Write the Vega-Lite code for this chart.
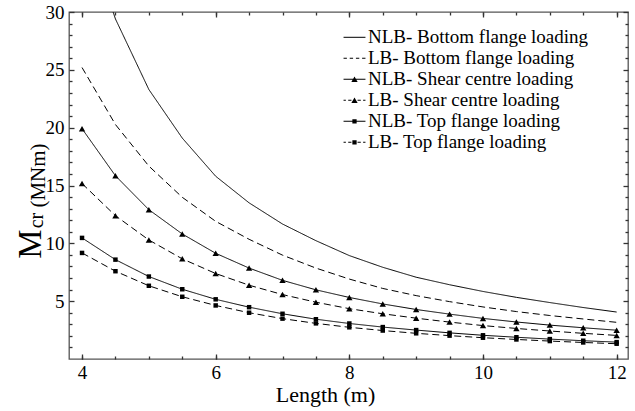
{
  "$schema": "https://vega.github.io/schema/vega-lite/v6.json",
  "width": 559,
  "height": 347,
  "autosize": {"type": "none"},
  "padding": {"left": 69, "top": 12, "right": 7, "bottom": 52},
  "background": "white",
  "config": {
    "view": {"stroke": "#555", "strokeWidth": 1.3},
    "axis": {
      "grid": false,
      "domain": false,
      "tickColor": "#333",
      "tickWidth": 1.3,
      "labelFont": "Liberation Serif",
      "labelFontSize": 19,
      "labelColor": "black",
      "titleFont": "Liberation Serif",
      "titleFontSize": 22,
      "titleFontWeight": "normal",
      "titleColor": "black"
    }
  },
  "data": {
    "values": [
      {"series": "NLB- Bottom flange loading", "type": "NLB", "loading": "Bottom", "L": 4, "M": 38.0},
      {"series": "NLB- Bottom flange loading", "type": "NLB", "loading": "Bottom", "L": 4.5, "M": 29.4},
      {"series": "NLB- Bottom flange loading", "type": "NLB", "loading": "Bottom", "L": 5, "M": 23.3},
      {"series": "NLB- Bottom flange loading", "type": "NLB", "loading": "Bottom", "L": 5.5, "M": 19.1},
      {"series": "NLB- Bottom flange loading", "type": "NLB", "loading": "Bottom", "L": 6, "M": 15.8},
      {"series": "NLB- Bottom flange loading", "type": "NLB", "loading": "Bottom", "L": 6.5, "M": 13.5},
      {"series": "NLB- Bottom flange loading", "type": "NLB", "loading": "Bottom", "L": 7, "M": 11.67},
      {"series": "NLB- Bottom flange loading", "type": "NLB", "loading": "Bottom", "L": 7.5, "M": 10.23},
      {"series": "NLB- Bottom flange loading", "type": "NLB", "loading": "Bottom", "L": 8, "M": 8.94},
      {"series": "NLB- Bottom flange loading", "type": "NLB", "loading": "Bottom", "L": 8.5, "M": 7.93},
      {"series": "NLB- Bottom flange loading", "type": "NLB", "loading": "Bottom", "L": 9, "M": 7.07},
      {"series": "NLB- Bottom flange loading", "type": "NLB", "loading": "Bottom", "L": 9.5, "M": 6.42},
      {"series": "NLB- Bottom flange loading", "type": "NLB", "loading": "Bottom", "L": 10, "M": 5.84},
      {"series": "NLB- Bottom flange loading", "type": "NLB", "loading": "Bottom", "L": 10.5, "M": 5.33},
      {"series": "NLB- Bottom flange loading", "type": "NLB", "loading": "Bottom", "L": 11, "M": 4.88},
      {"series": "NLB- Bottom flange loading", "type": "NLB", "loading": "Bottom", "L": 11.5, "M": 4.45},
      {"series": "NLB- Bottom flange loading", "type": "NLB", "loading": "Bottom", "L": 12, "M": 4.06},
      {"series": "LB- Bottom flange loading", "type": "LB", "loading": "Bottom", "L": 4, "M": 25.2},
      {"series": "LB- Bottom flange loading", "type": "LB", "loading": "Bottom", "L": 4.5, "M": 20.27},
      {"series": "LB- Bottom flange loading", "type": "LB", "loading": "Bottom", "L": 5, "M": 16.68},
      {"series": "LB- Bottom flange loading", "type": "LB", "loading": "Bottom", "L": 5.5, "M": 13.98},
      {"series": "LB- Bottom flange loading", "type": "LB", "loading": "Bottom", "L": 6, "M": 11.9},
      {"series": "LB- Bottom flange loading", "type": "LB", "loading": "Bottom", "L": 6.5, "M": 10.35},
      {"series": "LB- Bottom flange loading", "type": "LB", "loading": "Bottom", "L": 7, "M": 8.98},
      {"series": "LB- Bottom flange loading", "type": "LB", "loading": "Bottom", "L": 7.5, "M": 7.86},
      {"series": "LB- Bottom flange loading", "type": "LB", "loading": "Bottom", "L": 8, "M": 6.91},
      {"series": "LB- Bottom flange loading", "type": "LB", "loading": "Bottom", "L": 8.5, "M": 6.10},
      {"series": "LB- Bottom flange loading", "type": "LB", "loading": "Bottom", "L": 9, "M": 5.48},
      {"series": "LB- Bottom flange loading", "type": "LB", "loading": "Bottom", "L": 9.5, "M": 4.96},
      {"series": "LB- Bottom flange loading", "type": "LB", "loading": "Bottom", "L": 10, "M": 4.50},
      {"series": "LB- Bottom flange loading", "type": "LB", "loading": "Bottom", "L": 10.5, "M": 4.10},
      {"series": "LB- Bottom flange loading", "type": "LB", "loading": "Bottom", "L": 11, "M": 3.76},
      {"series": "LB- Bottom flange loading", "type": "LB", "loading": "Bottom", "L": 11.5, "M": 3.46},
      {"series": "LB- Bottom flange loading", "type": "LB", "loading": "Bottom", "L": 12, "M": 3.17},
      {"series": "NLB- Shear centre loading", "type": "NLB", "loading": "Shear", "L": 4, "M": 19.91},
      {"series": "NLB- Shear centre loading", "type": "NLB", "loading": "Shear", "L": 4.5, "M": 15.84},
      {"series": "NLB- Shear centre loading", "type": "NLB", "loading": "Shear", "L": 5, "M": 12.91},
      {"series": "NLB- Shear centre loading", "type": "NLB", "loading": "Shear", "L": 5.5, "M": 10.81},
      {"series": "NLB- Shear centre loading", "type": "NLB", "loading": "Shear", "L": 6, "M": 9.14},
      {"series": "NLB- Shear centre loading", "type": "NLB", "loading": "Shear", "L": 6.5, "M": 7.86},
      {"series": "NLB- Shear centre loading", "type": "NLB", "loading": "Shear", "L": 7, "M": 6.80},
      {"series": "NLB- Shear centre loading", "type": "NLB", "loading": "Shear", "L": 7.5, "M": 5.98},
      {"series": "NLB- Shear centre loading", "type": "NLB", "loading": "Shear", "L": 8, "M": 5.32},
      {"series": "NLB- Shear centre loading", "type": "NLB", "loading": "Shear", "L": 8.5, "M": 4.76},
      {"series": "NLB- Shear centre loading", "type": "NLB", "loading": "Shear", "L": 9, "M": 4.28},
      {"series": "NLB- Shear centre loading", "type": "NLB", "loading": "Shear", "L": 9.5, "M": 3.88},
      {"series": "NLB- Shear centre loading", "type": "NLB", "loading": "Shear", "L": 10, "M": 3.51},
      {"series": "NLB- Shear centre loading", "type": "NLB", "loading": "Shear", "L": 10.5, "M": 3.20},
      {"series": "NLB- Shear centre loading", "type": "NLB", "loading": "Shear", "L": 11, "M": 2.93},
      {"series": "NLB- Shear centre loading", "type": "NLB", "loading": "Shear", "L": 11.5, "M": 2.70},
      {"series": "NLB- Shear centre loading", "type": "NLB", "loading": "Shear", "L": 12, "M": 2.49},
      {"series": "LB- Shear centre loading", "type": "LB", "loading": "Shear", "L": 4, "M": 15.17},
      {"series": "LB- Shear centre loading", "type": "LB", "loading": "Shear", "L": 4.5, "M": 12.39},
      {"series": "LB- Shear centre loading", "type": "LB", "loading": "Shear", "L": 5, "M": 10.29},
      {"series": "LB- Shear centre loading", "type": "LB", "loading": "Shear", "L": 5.5, "M": 8.66},
      {"series": "LB- Shear centre loading", "type": "LB", "loading": "Shear", "L": 6, "M": 7.39},
      {"series": "LB- Shear centre loading", "type": "LB", "loading": "Shear", "L": 6.5, "M": 6.38},
      {"series": "LB- Shear centre loading", "type": "LB", "loading": "Shear", "L": 7, "M": 5.57},
      {"series": "LB- Shear centre loading", "type": "LB", "loading": "Shear", "L": 7.5, "M": 4.91},
      {"series": "LB- Shear centre loading", "type": "LB", "loading": "Shear", "L": 8, "M": 4.35},
      {"series": "LB- Shear centre loading", "type": "LB", "loading": "Shear", "L": 8.5, "M": 3.91},
      {"series": "LB- Shear centre loading", "type": "LB", "loading": "Shear", "L": 9, "M": 3.53},
      {"series": "LB- Shear centre loading", "type": "LB", "loading": "Shear", "L": 9.5, "M": 3.19},
      {"series": "LB- Shear centre loading", "type": "LB", "loading": "Shear", "L": 10, "M": 2.89},
      {"series": "LB- Shear centre loading", "type": "LB", "loading": "Shear", "L": 10.5, "M": 2.64},
      {"series": "LB- Shear centre loading", "type": "LB", "loading": "Shear", "L": 11, "M": 2.42},
      {"series": "LB- Shear centre loading", "type": "LB", "loading": "Shear", "L": 11.5, "M": 2.22},
      {"series": "LB- Shear centre loading", "type": "LB", "loading": "Shear", "L": 12, "M": 2.04},
      {"series": "NLB- Top flange loading", "type": "NLB", "loading": "Top", "L": 4, "M": 10.47},
      {"series": "NLB- Top flange loading", "type": "NLB", "loading": "Top", "L": 4.5, "M": 8.59},
      {"series": "NLB- Top flange loading", "type": "NLB", "loading": "Top", "L": 5, "M": 7.13},
      {"series": "NLB- Top flange loading", "type": "NLB", "loading": "Top", "L": 5.5, "M": 6.03},
      {"series": "NLB- Top flange loading", "type": "NLB", "loading": "Top", "L": 6, "M": 5.16},
      {"series": "NLB- Top flange loading", "type": "NLB", "loading": "Top", "L": 6.5, "M": 4.48},
      {"series": "NLB- Top flange loading", "type": "NLB", "loading": "Top", "L": 7, "M": 3.91},
      {"series": "NLB- Top flange loading", "type": "NLB", "loading": "Top", "L": 7.5, "M": 3.44},
      {"series": "NLB- Top flange loading", "type": "NLB", "loading": "Top", "L": 8, "M": 3.07},
      {"series": "NLB- Top flange loading", "type": "NLB", "loading": "Top", "L": 8.5, "M": 2.76},
      {"series": "NLB- Top flange loading", "type": "NLB", "loading": "Top", "L": 9, "M": 2.50},
      {"series": "NLB- Top flange loading", "type": "NLB", "loading": "Top", "L": 9.5, "M": 2.26},
      {"series": "NLB- Top flange loading", "type": "NLB", "loading": "Top", "L": 10, "M": 2.05},
      {"series": "NLB- Top flange loading", "type": "NLB", "loading": "Top", "L": 10.5, "M": 1.88},
      {"series": "NLB- Top flange loading", "type": "NLB", "loading": "Top", "L": 11, "M": 1.72},
      {"series": "NLB- Top flange loading", "type": "NLB", "loading": "Top", "L": 11.5, "M": 1.58},
      {"series": "NLB- Top flange loading", "type": "NLB", "loading": "Top", "L": 12, "M": 1.46},
      {"series": "LB- Top flange loading", "type": "LB", "loading": "Top", "L": 4, "M": 9.17},
      {"series": "LB- Top flange loading", "type": "LB", "loading": "Top", "L": 4.5, "M": 7.59},
      {"series": "LB- Top flange loading", "type": "LB", "loading": "Top", "L": 5, "M": 6.33},
      {"series": "LB- Top flange loading", "type": "LB", "loading": "Top", "L": 5.5, "M": 5.38},
      {"series": "LB- Top flange loading", "type": "LB", "loading": "Top", "L": 6, "M": 4.63},
      {"series": "LB- Top flange loading", "type": "LB", "loading": "Top", "L": 6.5, "M": 4.00},
      {"series": "LB- Top flange loading", "type": "LB", "loading": "Top", "L": 7, "M": 3.49},
      {"series": "LB- Top flange loading", "type": "LB", "loading": "Top", "L": 7.5, "M": 3.08},
      {"series": "LB- Top flange loading", "type": "LB", "loading": "Top", "L": 8, "M": 2.74},
      {"series": "LB- Top flange loading", "type": "LB", "loading": "Top", "L": 8.5, "M": 2.46},
      {"series": "LB- Top flange loading", "type": "LB", "loading": "Top", "L": 9, "M": 2.22},
      {"series": "LB- Top flange loading", "type": "LB", "loading": "Top", "L": 9.5, "M": 2.02},
      {"series": "LB- Top flange loading", "type": "LB", "loading": "Top", "L": 10, "M": 1.84},
      {"series": "LB- Top flange loading", "type": "LB", "loading": "Top", "L": 10.5, "M": 1.69},
      {"series": "LB- Top flange loading", "type": "LB", "loading": "Top", "L": 11, "M": 1.55},
      {"series": "LB- Top flange loading", "type": "LB", "loading": "Top", "L": 11.5, "M": 1.43},
      {"series": "LB- Top flange loading", "type": "LB", "loading": "Top", "L": 12, "M": 1.32}
    ]
  },
  "layer": [
    {
      "mark": {"type": "line", "color": "black", "strokeWidth": 1, "clip": true},
      "encoding": {
        "x": {"field": "L", "type": "quantitative",
          "scale": {"domain": [3.805, 12.17], "nice": false, "zero": false},
          "axis": {"orient": "bottom", "values": [4, 6, 8, 10, 12], "offset": -5, "tickSize": 5, "labelPadding": 4, "title": "Length (m)", "titleX": 256, "titleY": 40, "titleBaseline": "middle", "titleAlign": "center"}},
        "y": {"field": "M", "type": "quantitative",
          "scale": {"domain": [0, 30], "nice": false, "zero": false},
          "axis": {"orient": "left", "values": [5, 10, 15, 20, 25, 30], "offset": -5, "tickSize": 5, "labelPadding": 5, "title": "(MNm)", "titleFontSize": 21, "titleX": -30, "titleY": 163, "titleBaseline": "alphabetic", "titleAlign": "center", "titleAngle": -90}},
        "detail": {"field": "series"},
        "strokeDash": {"field": "type", "type": "nominal",
          "scale": {"domain": ["NLB", "LB"], "range": [[1, 0], [7, 4]]},
          "legend": null}
      }
    },
    {
      "transform": [{"filter": "datum.loading == 'Shear'"}],
      "mark": {"type": "point", "shape": "triangle-up", "filled": true, "color": "black", "opacity": 1, "size": 40},
      "encoding": {
        "x": {"field": "L", "type": "quantitative",
          "axis": {"orient": "bottom", "values": [4, 4.5, 5, 5.5, 6, 6.5, 7, 7.5, 8, 8.5, 9, 9.5, 10, 10.5, 11, 11.5, 12], "offset": -3, "tickSize": 3, "labels": false, "title": null}},
        "y": {"field": "M", "type": "quantitative",
          "axis": {"orient": "left", "values": [1, 2, 3, 4, 6, 7, 8, 9, 11, 12, 13, 14, 16, 17, 18, 19, 21, 22, 23, 24, 26, 27, 28, 29], "offset": -3, "tickSize": 3, "labels": false, "title": "M", "titleFontSize": 33, "titleX": -31.5, "titleY": 231.5, "titleBaseline": "alphabetic", "titleAlign": "center", "titleAngle": -90}}
      }
    },
    {
      "transform": [{"filter": "datum.loading == 'Top'"}],
      "mark": {"type": "point", "shape": "square", "filled": true, "color": "black", "opacity": 1, "size": 20},
      "encoding": {
        "x": {"field": "L", "type": "quantitative",
          "axis": {"orient": "top", "values": [4, 6, 8, 10, 12], "offset": -5, "tickSize": 5, "labels": false, "title": null}},
        "y": {"field": "M", "type": "quantitative",
          "axis": {"orient": "right", "values": [5, 10, 15, 20, 25, 30], "offset": -5, "tickSize": 5, "labels": false, "title": null}}
      }
    },
    {
      "transform": [{"filter": "false"}],
      "mark": {"type": "point", "filled": true, "color": "black", "opacity": 1},
      "encoding": {
        "x": {"field": "L", "type": "quantitative",
          "axis": {"orient": "top", "values": [4, 4.5, 5, 5.5, 6, 6.5, 7, 7.5, 8, 8.5, 9, 9.5, 10, 10.5, 11, 11.5, 12], "offset": -3, "tickSize": 3, "labels": false, "title": null}},
        "y": {"field": "M", "type": "quantitative",
          "axis": {"orient": "right", "values": [1, 2, 3, 4, 6, 7, 8, 9, 11, 12, 13, 14, 16, 17, 18, 19, 21, 22, 23, 24, 26, 27, 28, 29], "offset": -3, "tickSize": 3, "labels": false, "title": null}},
        "shape": {"field": "series", "type": "nominal",
          "scale": {
            "domain": ["NLB- Bottom flange loading", "LB- Bottom flange loading", "NLB- Shear centre loading", "LB- Shear centre loading", "NLB- Top flange loading", "LB- Top flange loading"],
            "range": [
              "M-1.08,-0.05L1.08,-0.05L1.08,0.05L-1.08,0.05Z",
              "M-1.08,-0.05L-0.75,-0.05L-0.75,0.05L-1.08,0.05Z M-0.47,-0.05L-0.14,-0.05L-0.14,0.05L-0.47,0.05Z M0.14,-0.05L0.47,-0.05L0.47,0.05L0.14,0.05Z M0.75,-0.05L1.08,-0.05L1.08,0.05L0.75,0.05Z",
              "M-1.08,-0.05L1.08,-0.05L1.08,0.05L-1.08,0.05Z M0,-0.28L0.31,0.26L-0.31,0.26Z",
              "M-1.08,-0.05L-0.85,-0.05L-0.85,0.05L-1.08,0.05Z M-0.62,-0.05L-0.3,-0.05L-0.3,0.05L-0.62,0.05Z M0.3,-0.05L0.62,-0.05L0.62,0.05L0.3,0.05Z M0.85,-0.05L1.08,-0.05L1.08,0.05L0.85,0.05Z M0,-0.28L0.31,0.26L-0.31,0.26Z",
              "M-1.08,-0.05L1.08,-0.05L1.08,0.05L-1.08,0.05Z M-0.21,-0.21L0.21,-0.21L0.21,0.21L-0.21,0.21Z",
              "M-1.08,-0.05L-0.85,-0.05L-0.85,0.05L-1.08,0.05Z M-0.62,-0.05L-0.3,-0.05L-0.3,0.05L-0.62,0.05Z M0.3,-0.05L0.62,-0.05L0.62,0.05L0.3,0.05Z M0.85,-0.05L1.08,-0.05L1.08,0.05L0.85,0.05Z M-0.21,-0.21L0.21,-0.21L0.21,0.21L-0.21,0.21Z"
            ]
          },
          "legend": {
            "orient": "none", "legendX": 275, "legendY": 14.8, "title": null,
            "symbolSize": 412, "symbolStrokeWidth": 0, "symbolFillColor": "black", "symbolStrokeColor": "black", "symbolOpacity": 1,
            "labelFont": "Liberation Serif", "labelFontSize": 19, "labelColor": "black", "labelOffset": 3, "labelLimit": 400,
            "rowPadding": -0.7, "padding": 0,
            "encode": {"symbols": {"update": {"fill": {"value": "black"}, "strokeWidth": {"value": 0}, "opacity": {"value": 1}}}}
          }
        }
      }
    },
    {
      "transform": [{"filter": "false"}],
      "mark": {"type": "point", "opacity": 1},
      "encoding": {
        "x": {"field": "L", "type": "quantitative", "axis": null},
        "y": {"field": "M", "type": "quantitative",
          "axis": {"orient": "left", "ticks": false, "labels": false, "title": "cr", "titleFontSize": 20, "titleX": -27, "titleY": 208, "titleBaseline": "alphabetic", "titleAlign": "center", "titleAngle": -90}}
      }
    }
  ],
  "resolve": {"axis": {"x": "independent", "y": "independent"}}
}
